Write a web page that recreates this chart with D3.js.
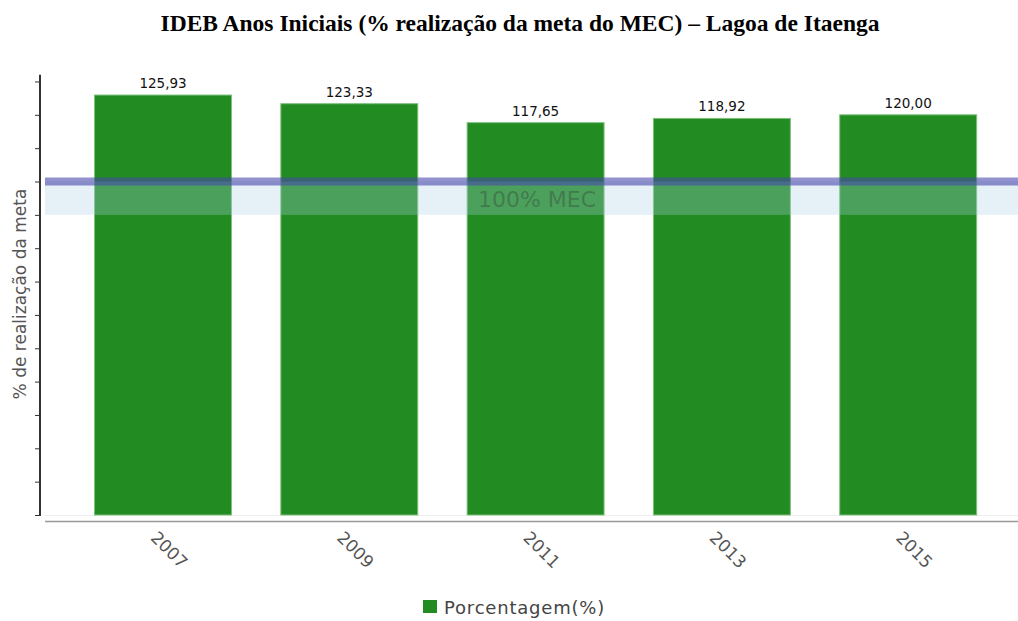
<!DOCTYPE html>
<html>
<head>
<meta charset="utf-8">
<script src="https://cdn.jsdelivr.net/npm/d3@7"></script>
<style>
  body { margin: 0; background: #fff; }
</style>
</head>
<body>
<script>
// dados
let anos = ['2007', '2009', '2011', '2013', '2015'];
let porcentagem = [125.93, 123.33, 117.65, 118.92, 120.00];
let yTicks = [0, 10, 20, 30, 40, 50, 60, 70, 80, 90, 100, 110, 120, 130];
let metaMEC = 100;

let width = 1018;
let height = 621;

let svg = d3.select('body')
  .append('svg')
  .attr('width', width)
  .attr('height', height);

// titulo
svg.append('text')
  .attr('x', 520)
  .attr('y', 31)
  .attr('text-anchor', 'middle')
  .attr('font-family', '"Liberation Serif", "Times New Roman", serif')
  .attr('font-weight', 'bold')
  .attr('font-size', '23.5px')
  .attr('fill', '#000')
  .text('IDEB Anos Iniciais (% realização da meta do MEC) – Lagoa de Itaenga');

// escalas
let x = d3.scaleBand()
  .domain(anos)
  .range([69.85, 1001.35])
  .paddingInner(0.265)
  .paddingOuter(0.1325);

let y = d3.scaleLinear()
  .domain([0, 132])
  .range([515, 74.8]);

let font = '"DejaVu Sans", Verdana, sans-serif';

// linha base clara
svg.append('line')
  .attr('x1', 45).attr('x2', width)
  .attr('y1', y(0) + 0.5).attr('y2', y(0) + 0.5)
  .attr('stroke', '#eee');

// eixo x
svg.append('line')
  .attr('x1', 45).attr('x2', width)
  .attr('y1', 521.5).attr('y2', 521.5)
  .attr('stroke', '#999')
  .attr('stroke-width', 1.5);

// eixo y
let yAxis = svg.append('g')
  .attr('transform', 'translate(40,0)')
  .call(d3.axisLeft(y).tickValues(yTicks).tickSize(5).tickFormat(''));
yAxis.select('.domain')
  .attr('stroke', '#333')
  .attr('stroke-width', 2)
  .attr('d', 'M0,' + y(132) + 'V' + (y(0) + 1));
yAxis.selectAll('.tick line').attr('stroke', '#333');

// barras
svg.selectAll('rect.bar')
  .data(porcentagem)
  .enter()
  .append('rect')
  .attr('class', 'bar')
  .attr('x', (d, i) => x(anos[i]))
  .attr('y', d => y(d))
  .attr('width', x.bandwidth())
  .attr('height', d => y(0) - y(d))
  .attr('fill', '#228b22')
  .attr('stroke', '#7cc07c')
  .attr('stroke-width', 1);

// rotulos das barras
svg.selectAll('text.valor')
  .data(porcentagem)
  .enter()
  .append('text')
  .attr('class', 'valor')
  .attr('x', (d, i) => x(anos[i]) + x.bandwidth() / 2)
  .attr('y', d => y(d) - 7)
  .attr('text-anchor', 'middle')
  .attr('font-family', font)
  .attr('font-size', '13.5px')
  .attr('fill', '#111')
  .text(d => d.toFixed(2).replace('.', ','));

// faixa 100% MEC
svg.append('rect')
  .attr('x', 45)
  .attr('y', y(metaMEC))
  .attr('width', width - 45)
  .attr('height', y(metaMEC - 10) - y(metaMEC))
  .attr('fill', 'rgb(172,208,230)')
  .attr('fill-opacity', 0.3);

svg.append('rect')
  .attr('x', 45)
  .attr('y', y(metaMEC) - 4)
  .attr('width', width - 45)
  .attr('height', 8)
  .attr('fill', 'rgb(72,72,172)')
  .attr('fill-opacity', 0.6);

svg.append('text')
  .attr('x', 537)
  .attr('y', 207)
  .attr('text-anchor', 'middle')
  .attr('font-family', font)
  .attr('font-size', '22px')
  .attr('fill', '#333')
  .attr('fill-opacity', 0.35)
  .text('100% MEC');

// rotulos do eixo x
svg.selectAll('text.ano')
  .data(anos)
  .enter()
  .append('text')
  .attr('class', 'ano')
  .attr('transform', d => 'translate(' + (x(d) + x.bandwidth() / 2 + 2) + ',554) rotate(45)')
  .attr('text-anchor', 'middle')
  .attr('font-family', font)
  .attr('font-size', '17px')
  .attr('fill', '#555')
  .text(d => d);

// titulo do eixo y
svg.append('text')
  .attr('transform', 'translate(26,294) rotate(-90)')
  .attr('text-anchor', 'middle')
  .attr('font-family', font)
  .attr('font-size', '17px')
  .attr('fill', '#555')
  .text('% de realização da meta');

// legenda
svg.append('rect')
  .attr('x', 423)
  .attr('y', 600)
  .attr('width', 14)
  .attr('height', 13)
  .attr('fill', '#228b22');

svg.append('text')
  .attr('x', 444)
  .attr('y', 614)
  .attr('font-family', font)
  .attr('font-size', '18px')
  .attr('letter-spacing', '0.8px')
  .attr('fill', '#444')
  .text('Porcentagem(%)');
</script>
</body>
</html>
